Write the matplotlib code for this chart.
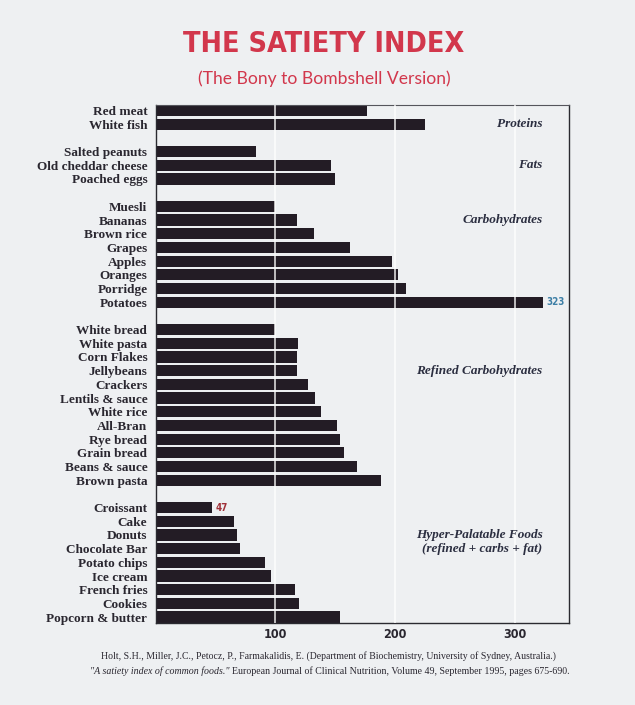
import matplotlib
matplotlib.use("Agg")
import matplotlib.pyplot as plt
from matplotlib import font_manager

# ---------------- data ----------------
proteins = ["Red meat", "White fish"]
proteins_vals = [176, 225]
fats = ["Salted peanuts", "Old cheddar cheese", "Poached eggs"]
fats_vals = [84, 146, 150]
carbs = ["Muesli", "Bananas", "Brown rice", "Grapes", "Apples", "Oranges",
         "Porridge", "Potatoes"]
carbs_vals = [100, 118, 132, 162, 197, 202, 209, 323]
refined = ["White bread", "White pasta", "Corn Flakes", "Jellybeans", "Crackers",
           "Lentils & sauce", "White rice", "All-Bran", "Rye bread",
           "Grain bread", "Beans & sauce", "Brown pasta"]
refined_vals = [100, 119, 118, 118, 127, 133, 138, 151, 154, 157, 168, 188]
hyper = ["Croissant", "Cake", "Donuts", "Chocolate Bar", "Potato chips",
         "Ice cream", "French fries", "Cookies", "Popcorn & butter"]
hyper_vals = [47, 65, 68, 70, 91, 96, 116, 120, 154]

groups = [
    ("Proteins", proteins, proteins_vals),
    ("Fats", fats, fats_vals),
    ("Carbohydrates", carbs, carbs_vals),
    ("Refined Carbohydrates", refined, refined_vals),
    ("Hyper-Palatable Foods", hyper, hyper_vals),
]
x_ticks = [100, 200, 300]


def find_condensed():
    cands = [("Liberation Sans Narrow", "normal"), ("Liberation Sans Narrow", "condensed"),
             ("DejaVu Sans Condensed", "normal"), ("DejaVu Sans", "condensed"),
             ("Roboto Condensed", "normal"), ("Roboto", "condensed"),
             ("Open Sans", "condensed"), ("Noto Sans", "condensed"),
             ("Liberation Sans", "condensed")]
    for fam, st in cands:
        try:
            fp = font_manager.FontProperties(family=fam, stretch=st, weight="bold")
            f = font_manager.findfont(fp, fallback_to_default=False)
            low = f.lower()
            if "condensed" in low or "narrow" in low or "cond" in low:
                return fam, st, True
        except Exception:
            pass
    return "Roboto", "normal", False


def pick(cands):
    for c in cands:
        try:
            font_manager.findfont(font_manager.FontProperties(family=c),
                                  fallback_to_default=False)
            return c
        except Exception:
            pass
    return "DejaVu Sans"


cond_fam, cond_st, is_cond = find_condensed()
title_size = 20.5 if is_cond else 21
sub_font = pick(["Lato", "Open Sans", "DejaVu Sans"])
serif_font = pick(["Liberation Serif", "DejaVu Serif"])

BG = "#eef0f2"
BAR = "#231c25"
TXT = "#2a2730"
RED = "#d2374c"

fig = plt.figure(figsize=(6.35, 7.05), dpi=100, facecolor=BG)
ax = fig.add_axes([0.2452, 0.1167, 0.6508, 0.7345])
ax.set_facecolor(BG)

ys, labels, vals = [], [], []
row = 0
for gname, names, v in groups:
    for n, val in zip(names, v):
        ys.append(row)
        labels.append(n)
        vals.append(val)
        row += 1
    row += 1  # gap between groups
nrows = row - 1

ax.barh(ys, vals, height=0.82, color=BAR, edgecolor="none", zorder=2)
for xt in x_ticks:
    ax.axvline(xt, color="white", lw=1.1, alpha=0.9, zorder=3)

ax.set_xlim(0, 345)
ax.set_ylim(nrows - 1 + 0.41, -0.41)
ax.set_yticks(ys)
ax.set_yticklabels(labels, fontfamily=serif_font, fontsize=9.5,
                   fontweight="bold", color=TXT)
ax.set_xticks(x_ticks)
ax.set_xticklabels([str(t) for t in x_ticks], fontfamily=cond_fam,
                   fontstretch=cond_st, fontsize=9, fontweight="bold", color=TXT)
ax.tick_params(axis="both", length=0)
ax.tick_params(axis="y", pad=6)
ax.tick_params(axis="x", pad=4)
for s in ax.spines.values():
    s.set_color("#2a2a30")
    s.set_linewidth(1.0)
ax.spines["top"].set_color("#55555c")
ax.spines["top"].set_linewidth(0.8)

# group labels
gkw = dict(ha="right", va="center", fontfamily=serif_font, fontstyle="italic",
           fontweight="bold", fontsize=9.5, color="#2b2e40")
ax.text(323, ys[labels.index("White fish")], "Proteins", **gkw)
ax.text(323, ys[labels.index("Old cheddar cheese")], "Fats", **gkw)
ax.text(323, ys[labels.index("Bananas")], "Carbohydrates", **gkw)
ax.text(323, ys[labels.index("Jellybeans")], "Refined Carbohydrates", **gkw)
ax.text(323, ys[labels.index("Donuts")], "Hyper-Palatable Foods", **gkw)
ax.text(323, ys[labels.index("Chocolate Bar")], "(refined + carbs + fat)", **gkw)

# value annotations
i_pot = labels.index("Potatoes")
ax.text(vals[i_pot] + 3, ys[i_pot], str(vals[i_pot]), ha="left", va="center",
        fontfamily=cond_fam, fontstretch=cond_st, fontweight="bold", fontsize=7,
        color="#3d7fa6")
i_cro = labels.index("Croissant")
ax.text(vals[i_cro] + 3, ys[i_cro], str(vals[i_cro]), ha="left", va="center",
        fontfamily=cond_fam, fontstretch=cond_st, fontweight="bold", fontsize=7,
        color="#a03038")

# titles
fig.text(0.51, 0.937, "THE SATIETY INDEX", ha="center", va="center",
         fontfamily=cond_fam, fontstretch=cond_st, fontweight="bold",
         fontsize=title_size, color=RED)
fig.text(0.51, 0.889, "(The Bony to Bombshell Version)", ha="center", va="center",
         fontfamily=sub_font, fontsize=12.6, color=RED)

# footer
fig.text(0.517, 0.0695,
         "Holt, S.H., Miller, J.C., Petocz, P., Farmakalidis, E. (Department of Biochemistry, University of Sydney, Australia.)",
         ha="center", va="center", fontfamily=serif_font, fontsize=7.05, color=TXT)
x0 = 0.1417
t1 = fig.text(x0, 0.048, "\"A satiety index of common foods.\"", ha="left", va="center",
              fontfamily=serif_font, fontstyle="italic", fontsize=7.1, color=TXT)
fig.canvas.draw()
bb = t1.get_window_extent()
fig.text(bb.x1 / fig.bbox.width + 0.004, 0.048,
         "European Journal of Clinical Nutrition, Volume 49, September 1995, pages 675-690.",
         ha="left", va="center", fontfamily=serif_font, fontsize=7.1, color=TXT)

fig.savefig("out.png", dpi=100, facecolor=BG)
